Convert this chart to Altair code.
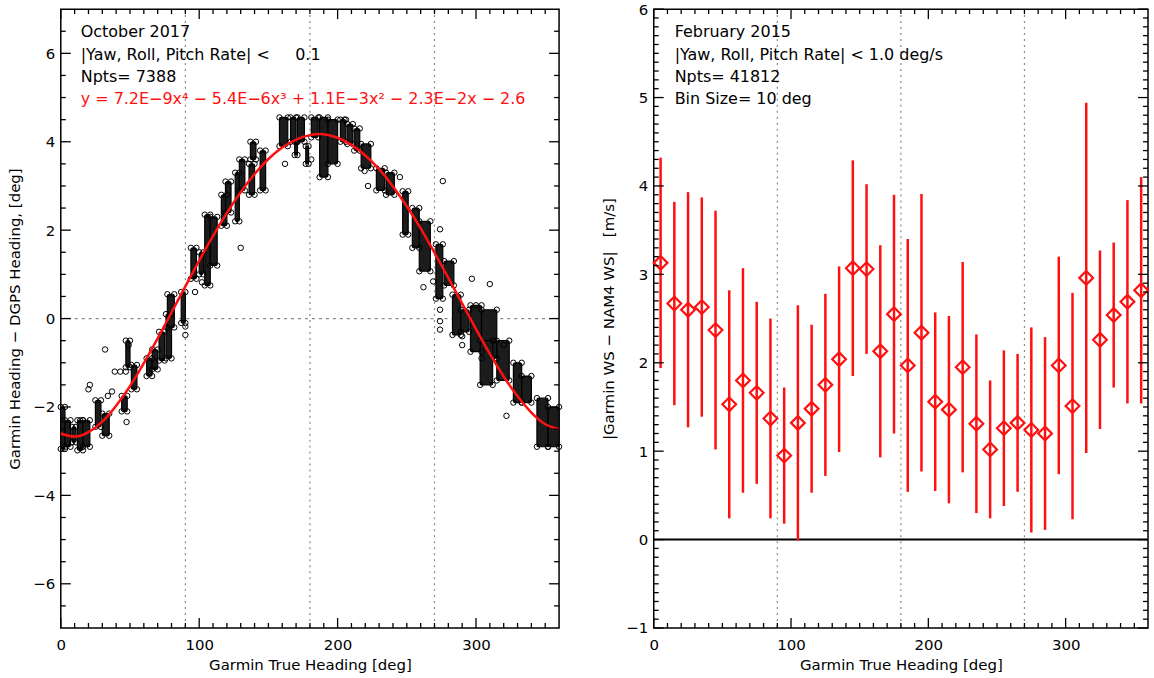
import altair as alt
import pandas as pd

FONT = "DejaVu Sans"
RED = "#ff1010"
GRID = "#8a8a8a"
NB = "\u00a0"  # non-breaking space keeps runs of blanks in SVG text

# ---------------- left panel: heading difference vs heading ----------------
# fitted quartic, sampled every 10 deg
fit_heading = list(range(0, 361, 10))
fit_value = [-2.60, -2.67, -2.57, -2.33, -1.97, -1.53, -1.01, -0.45, 0.14, 0.73,
             1.31, 1.87, 2.39, 2.86, 3.27, 3.61, 3.87, 4.05, 4.15, 4.17,
             4.09, 3.93, 3.69, 3.38, 2.99, 2.54, 2.04, 1.49, 0.92, 0.34,
             -0.24, -0.80, -1.31, -1.76, -2.13, -2.39, -2.50]

# dense runs of samples: heading span and value span of each run
run_h0 = [0, 3, 8, 12, 16, 25, 30, 44, 47, 51, 62, 66, 71, 76, 77, 87, 94, 100, 104, 108,
          116, 119, 126, 129, 136, 137, 144, 158, 166, 169, 171, 177, 181, 187, 193, 202, 207,
          212, 217, 228, 235, 247, 254, 259, 271, 277, 283, 289, 296, 304, 303, 315, 327, 333,
          344, 352]
run_h1 = [3, 7, 11, 16, 21, 29, 35, 48, 50, 55, 66, 70, 75, 80, 82, 90, 98, 103, 108, 113,
          120, 123, 129, 133, 140, 141, 148, 164, 170, 171, 176, 179, 186, 193, 200, 206, 211,
          216, 224, 234, 241, 251, 259, 267, 276, 284, 289, 295, 304, 315, 312, 324, 333, 340,
          352, 360]
run_lo = [-2.95, -2.90, -2.80, -2.98, -2.90, -2.45, -2.65, -2.10, -1.10, -1.60, -1.30, -1.15,
          -0.95, -0.90, -0.20, -0.10, 0.90, 1.00, 0.75, 1.20, 2.10, 2.40, 2.20, 2.90, 2.80, 3.60,
          2.90, 3.90, 4.00, 3.70, 4.00, 3.50, 4.10, 3.20, 3.50, 4.00, 3.95, 3.80, 3.40, 2.90,
          2.80, 1.90, 1.60, 1.07, 0.45, 0.75, -0.37, -0.30, -0.75, -0.90, -1.50, -1.40, -1.90,
          -1.90, -2.90, -2.90]
run_hi = [-2.00, -2.30, -2.45, -2.30, -2.30, -1.85, -2.15, -1.75, -0.50, -1.05, -0.90, -0.70,
          -0.30, 0.10, 0.55, 0.60, 1.60, 1.50, 2.35, 2.30, 2.80, 3.10, 3.30, 3.60, 3.50, 4.00,
          3.80, 4.55, 4.55, 4.00, 4.55, 3.90, 4.55, 4.55, 4.50, 4.50, 4.40, 4.30, 3.95, 3.40,
          3.30, 2.88, 2.50, 2.20, 1.68, 1.30, 0.54, 0.20, 0.30, 0.20, -0.50, -0.50, -1.00,
          -1.30, -1.80, -2.00]

# isolated samples
pt_heading = [32, 20, 21, 47.5, 39, 43, 34, 37, 90, 90, 14, 47, 49, 97, 102, 130, 162, 181, 205,
              276, 274, 222, 219.5, 245, 269, 262, 274, 274, 274, 297, 310, 300, 290, 290, 320, 322]
pt_value = [-0.70, -1.60, -1.50, -2.34, -1.20, -1.20, -1.75, -1.65, -0.18, -0.37, -2.30, -1.20,
            -0.60, 0.60, 0.82, 1.60, 3.50, 3.60, 4.50, 3.11, 2.02, 3.00, 3.34, 3.20, 0.84, 0.71,
            0.20, -0.06, -0.25, 0.90, 0.78, 0.30, -0.40, -0.60, -0.60, -2.20]

# ---------------- right panel: binned wind speed difference ----------------
bin_center = list(range(5, 360, 10))
bin_mean = [3.13, 2.67, 2.60, 2.63, 2.37, 1.53, 1.80, 1.66, 1.37, 0.95, 1.32, 1.48, 1.75, 2.04,
            3.07, 3.06, 2.13, 2.55, 1.97, 2.34, 1.56, 1.47, 1.95, 1.31, 1.02, 1.26, 1.32, 1.24,
            1.20, 1.97, 1.51, 2.96, 2.26, 2.54, 2.69, 2.82]
bin_sd = [1.19, 1.15, 1.33, 1.24, 1.35, 1.29, 1.27, 1.03, 1.13, 0.77, 1.33, 0.95, 1.03, 1.05,
          1.22, 0.96, 1.20, 1.35, 1.43, 1.57, 1.01, 1.06, 1.19, 1.01, 0.78, 0.88, 0.78, 1.16,
          1.09, 1.23, 1.28, 1.98, 1.01, 0.82, 1.15, 1.28]

# axis ticks and reference lines
x_labels = [0, 100, 200, 300]
x_major = [0, 100, 200, 300]
x_minor = [v for v in range(10, 360, 10) if v % 100]
quadrants = [90, 180, 270]
left_y_labels = [-6, -4, -2, 0, 2, 4, 6]
left_y_minor = [v / 2 for v in range(-13, 14) if v % 4]
right_y_labels = [-1, 0, 1, 2, 3, 4, 5, 6]
right_y_minor = [v / 10 for v in range(-9, 60) if v % 10]

LW, RW, H = 500, 496, 621


def axis_kw(**kw):
    base = dict(ticks=False, domain=False, grid=False, labelFont=FONT, titleFont=FONT,
                labelFontSize=15, titleFontSize=15, titleFontWeight="normal",
                labelColor="black", titleColor="black", labelFlush=False, labelOverlap=False)
    base.update(kw)
    return alt.Axis(**base)


X_AXIS = axis_kw(values=x_labels, labelPadding=10, title="Garmin True Heading [deg]",
                 titlePadding=5)
YL_AXIS = axis_kw(values=left_y_labels, labelPadding=6,
                  title="Garmin Heading − DGPS Heading, [deg]", titlePadding=10)
YR_AXIS = axis_kw(values=right_y_labels, labelPadding=6,
                  title=f"|Garmin WS − NAM4 WS|{NB * 3}[m/s]", titlePadding=9)


def tick_layers(width, height, xs, ys, xa, ya, y_major, y_minor):
    layers = []
    for vals, ln in ((x_major, 10), (x_minor, 5)):
        d = alt.Chart(pd.DataFrame({"t": vals}))
        for y0, y1 in ((height, height - ln), (0, ln)):
            layers.append(d.mark_rule(color="black", strokeWidth=1.3).encode(
                x=alt.X("t:Q", scale=xs, axis=xa), y=alt.value(y0), y2=alt.value(y1)))
    for vals, ln in ((y_major, 10), (y_minor, 5)):
        d = alt.Chart(pd.DataFrame({"t": vals}))
        for x0, x1 in ((0, ln), (width, width - ln)):
            layers.append(d.mark_rule(color="black", strokeWidth=1.3).encode(
                y=alt.Y("t:Q", scale=ys, axis=ya), x=alt.value(x0), x2=alt.value(x1)))
    return layers


def note(text, x, y, color="black"):
    return alt.Chart(pd.DataFrame({"n": [0]})).mark_text(
        text=text, align="left", baseline="middle", font=FONT, fontSize=16, color=color
    ).encode(x=alt.value(x), y=alt.value(y))


# ---- left panel ----
xs_l = alt.Scale(domain=[0, 360], nice=False, zero=False)
ys_l = alt.Scale(domain=[-7, 7], nice=False, zero=False)

quad_df = pd.DataFrame({"h": quadrants})
vlines_l = alt.Chart(quad_df).mark_rule(color=GRID, strokeWidth=1.2, strokeDash=[2, 4]).encode(
    x=alt.X("h:Q", scale=xs_l, axis=X_AXIS))
zero_l = alt.Chart(pd.DataFrame({"v": [0]})).mark_rule(
    color=GRID, strokeWidth=1.2, strokeDash=[3, 4]).encode(
    y=alt.Y("v:Q", scale=ys_l, axis=YL_AXIS))

runs = pd.DataFrame({"h0": run_h0, "h1": run_h1, "lo": run_lo, "hi": run_hi})
runs_l = alt.Chart(runs).mark_rect(color="#1c1c1c", stroke="#000000", strokeWidth=1.2,
                                   cornerRadius=2).encode(
    x=alt.X("h0:Q", scale=xs_l, axis=X_AXIS), x2="h1:Q",
    y=alt.Y("lo:Q", scale=ys_l, axis=YL_AXIS), y2="hi:Q")

# hollow rings on the outer corners of every run soften its outline
ring_rows = []
for h0, h1, lo, hi in zip(run_h0, run_h1, run_lo, run_hi):
    ring_rows += [(h0, lo), (h1, lo), (h0, hi), (h1, hi)]
rings = pd.DataFrame(ring_rows, columns=["h", "v"])
rings_l = alt.Chart(rings).mark_point(shape="circle", filled=False, color="black",
                                      size=30, strokeWidth=1, opacity=1).encode(
    x=alt.X("h:Q", scale=xs_l, axis=X_AXIS), y=alt.Y("v:Q", scale=ys_l, axis=YL_AXIS))

pts = pd.DataFrame({"h": pt_heading, "v": pt_value})
pts_l = alt.Chart(pts).mark_point(shape="circle", filled=False, color="black",
                                  size=30, strokeWidth=1, opacity=1).encode(
    x=alt.X("h:Q", scale=xs_l, axis=X_AXIS), y=alt.Y("v:Q", scale=ys_l, axis=YL_AXIS))

fit = pd.DataFrame({"h": fit_heading, "v": fit_value})
fit_l = alt.Chart(fit).mark_line(color=RED, strokeWidth=2.5, interpolate="natural").encode(
    x=alt.X("h:Q", scale=xs_l, axis=X_AXIS), y=alt.Y("v:Q", scale=ys_l, axis=YL_AXIS))

left = alt.layer(
    vlines_l, zero_l, runs_l, rings_l, pts_l, fit_l,
    *tick_layers(LW, H, xs_l, ys_l, X_AXIS, YL_AXIS, left_y_labels, left_y_minor),
    note("October 2017", 20, 23),
    note(f"|Yaw, Roll, Pitch Rate| <{NB * 5}0.1", 20, 46),
    note("Npts= 7388", 20, 68),
    note("y = 7.2E−9x⁴ − 5.4E−6x³ + 1.1E−3x² − 2.3E−2x − 2.6", 20, 90, RED),
).properties(width=LW, height=H)

# ---- right panel ----
xs_r = alt.Scale(domain=[0, 360], nice=False, zero=False)
ys_r = alt.Scale(domain=[-1, 6], nice=False, zero=False)

vlines_r = alt.Chart(quad_df).mark_rule(color=GRID, strokeWidth=1.2, strokeDash=[2, 4]).encode(
    x=alt.X("h:Q", scale=xs_r, axis=X_AXIS))
zero_r = alt.Chart(pd.DataFrame({"v": [0]})).mark_rule(color="black", strokeWidth=2).encode(
    y=alt.Y("v:Q", scale=ys_r, axis=YR_AXIS))

bins = pd.DataFrame({"h": bin_center, "m": bin_mean, "sd": bin_sd})
err_r = alt.Chart(bins).transform_calculate(
    lo="datum.m - datum.sd", hi="datum.m + datum.sd"
).mark_rule(color=RED, strokeWidth=2.5).encode(
    x=alt.X("h:Q", scale=xs_r, axis=X_AXIS), y=alt.Y("lo:Q", scale=ys_r, axis=YR_AXIS),
    y2="hi:Q")
dia_r = alt.Chart(bins).mark_point(shape="diamond", filled=False, color=RED,
                                   strokeWidth=2.2, size=190, opacity=1).encode(
    x=alt.X("h:Q", scale=xs_r, axis=X_AXIS), y=alt.Y("m:Q", scale=ys_r, axis=YR_AXIS))

right = alt.layer(
    vlines_r, zero_r, err_r, dia_r,
    *tick_layers(RW, H, xs_r, ys_r, X_AXIS, YR_AXIS, right_y_labels, right_y_minor),
    note("February 2015", 21, 23),
    note("|Yaw, Roll, Pitch Rate| < 1.0 deg/s", 21, 46),
    note("Npts= 41812", 21, 68),
    note("Bin Size= 10 deg", 21, 90),
).properties(width=RW, height=H)

chart = alt.hconcat(left, right, spacing=95, bounds="flush").properties(
    padding={"left": 7, "top": 0, "right": 0, "bottom": 0}
).configure_view(stroke="black", strokeWidth=1.5)

chart.save("out.html", embed_options={"renderer": "svg", "actions": False})
